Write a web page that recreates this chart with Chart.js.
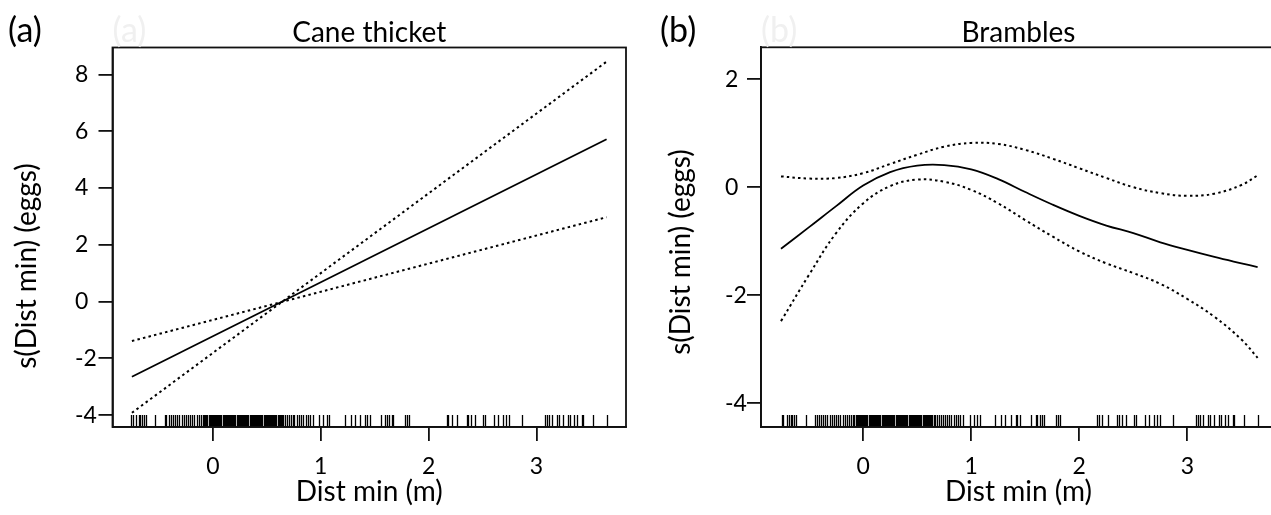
<!DOCTYPE html>
<html>
<head>
<meta charset="utf-8">
<script src="https://cdn.jsdelivr.net/npm/chart.js@4.4.0/dist/chart.umd.min.js"></script>
<style>
  html, body { margin: 0; padding: 0; background: #fff; overflow: hidden; }
  body { width: 1271px; height: 515px; position: relative; }
  .panel { position: absolute; top: 0; height: 515px; }
  #wrapA { left: 0; width: 640px; }
  #wrapB { left: 640px; width: 660px; }
</style>
</head>
<body>
<div class="panel" id="wrapA"><canvas id="chartA"></canvas></div>
<div class="panel" id="wrapB"><canvas id="chartB"></canvas></div>
<script>
// (a) Cane thicket: linear smooth, ends of the fitted line and its band
var caneX = [-0.75, 3.65];
var caneFit = [-2.65, 5.72];
var caneUpper = [-3.92, 8.45];
var caneLower = [-1.39, 2.97];

// (b) Brambles: smooth
var bramX = [-0.76, -0.5, -0.25, 0, 0.25, 0.5, 0.75, 1.0, 1.25, 1.5, 1.75, 2.0, 2.25, 2.5, 2.75, 3.0, 3.25, 3.5, 3.65];
var bramFit = [-1.14, -0.74, -0.35, 0.03, 0.28, 0.40, 0.41, 0.33, 0.15, -0.09, -0.32, -0.53, -0.71, -0.85, -1.02, -1.16, -1.29, -1.41, -1.48];
var bramUpper = [0.20, 0.16, 0.17, 0.26, 0.43, 0.60, 0.75, 0.82, 0.80, 0.69, 0.53, 0.35, 0.17, 0.0, -0.11, -0.16, -0.12, 0.04, 0.22];
var bramLower = [-2.48, -1.62, -0.85, -0.30, 0.02, 0.14, 0.10, -0.05, -0.30, -0.61, -0.91, -1.19, -1.41, -1.59, -1.79, -2.07, -2.40, -2.82, -3.16];

// rug of observed Dist min values (same in both panels)
var rugX = [
  -0.754, -0.739, -0.708, -0.686, -0.671, -0.656, -0.637, -0.624, -0.532,
  -0.445, -0.43, -0.41, -0.39, -0.37, -0.35, -0.33, -0.31, -0.29, -0.27, -0.25, -0.23, -0.21, -0.19, -0.17, -0.15, -0.13, -0.11,
  -0.09, -0.08, -0.07, -0.06, -0.05, -0.04, -0.03, -0.02, -0.01, 0.0, 0.01, 0.02, 0.03, 0.04, 0.05, 0.06, 0.07, 0.08, 0.09,
  0.1, 0.11, 0.12, 0.13, 0.14, 0.15, 0.16, 0.17, 0.18, 0.19, 0.2, 0.21, 0.22, 0.23, 0.24, 0.25, 0.26, 0.27, 0.28, 0.29,
  0.3, 0.31, 0.32, 0.33, 0.34, 0.35, 0.36, 0.37, 0.38, 0.39, 0.4, 0.41, 0.42, 0.43, 0.44, 0.45, 0.46, 0.47, 0.48, 0.49,
  0.5, 0.51, 0.52, 0.53, 0.54, 0.55, 0.56, 0.57, 0.58, 0.59, 0.6, 0.61, 0.62, 0.63, 0.64,
  0.652, 0.668, 0.684, 0.705, 0.721, 0.739, 0.754, 0.776, 0.798, 0.816, 0.838, 0.86, 0.878, 0.9, 0.925,
  0.986, 1.023, 1.055, 1.079, 1.224, 1.277, 1.317, 1.364, 1.41, 1.426, 1.456,
  1.556, 1.596, 1.611, 1.635, 1.658, 1.673, 1.781, 1.802, 1.821,
  2.168, 2.183, 2.214, 2.261, 2.353, 2.368, 2.391, 2.43, 2.502, 2.523, 2.609, 2.647, 2.687, 2.718, 2.743, 2.866,
  3.08, 3.096, 3.117, 3.142, 3.188, 3.212, 3.25, 3.296, 3.312, 3.352, 3.374, 3.426, 3.435, 3.522, 3.65
];

var xTicks = [0, 1, 2, 3];
var xTickLabels = ['0', '1', '2', '3'];
var caneYTicks = [-4, -2, 0, 2, 4, 6, 8];
var caneYLabels = ['-4', '-2', '0', '2', '4', '6', '8'];
var bramYTicks = [-4, -2, 0, 2];
var bramYLabels = ['-4', '-2', '0', '2'];

var FONT = 'Lato, "Open Sans", sans-serif';
var INK = '#111';

function pts(xs, ys) {
  return xs.map(function (x, i) { return { x: x, y: ys[i] }; });
}

// box, rug and the text around each panel
var panelDeco = {
  id: 'panelDeco',
  afterDatasetsDraw: function (chart, args, o) {
    var ctx = chart.ctx, a = chart.chartArea, xs = chart.scales.x;
    ctx.save();
    ctx.strokeStyle = '#000';
    ctx.lineWidth = 1.3;
    ctx.beginPath();
    rugX.forEach(function (v) {
      // snap to whole pixels so the dense part reads solid black
      var px = Math.round(xs.getPixelForValue(v)) + 0.5;
      ctx.moveTo(px, a.bottom);
      ctx.lineTo(px, a.bottom - 12);
    });
    ctx.stroke();
    ctx.strokeStyle = INK;
    ctx.lineWidth = 1.8;
    ctx.strokeRect(a.left, a.top, a.right - a.left, a.bottom - a.top);
    ctx.restore();
  },
  afterDraw: function (chart, args, o) {
    var ctx = chart.ctx, a = chart.chartArea;
    var cx = (a.left + a.right) / 2;
    ctx.save();
    ctx.textBaseline = 'middle';
    ctx.textAlign = 'left';
    ctx.font = '34px ' + FONT;
    ctx.fillStyle = '#f0f0f0';
    ctx.fillText(o.tag, a.left, 31);
    ctx.fillStyle = '#000';
    ctx.fillText(o.tag, o.tagX, 31);

    ctx.textAlign = 'center';
    ctx.font = '28px ' + FONT;
    ctx.textBaseline = 'alphabetic';
    ctx.fillText(o.title, cx, 42);

    ctx.textBaseline = 'middle';
    ctx.fillText('Dist min (m)', cx, 492);

    ctx.translate(o.yTitleX, o.yTitleY);
    ctx.rotate(-Math.PI / 2);
    ctx.fillText('s(Dist min) (eggs)', 0, 0);
    ctx.restore();
  }
};

function makePanel(id, cfg) {
  var axisCommon = {
    grid: { drawOnChartArea: false, drawTicks: true, tickLength: 14, color: INK, lineWidth: 1.8 },
    border: { display: true, color: INK, width: 1.8 }
  };
  var solid = { borderColor: '#000', borderWidth: 1.8, pointRadius: 0, fill: false };
  var dotted = { borderColor: '#000', borderWidth: 2, borderDash: [2.5, 3.2], pointRadius: 0, fill: false };

  var datasets = [
    Object.assign({ label: 'fit', data: pts(cfg.xs, cfg.fit) }, solid),
    Object.assign({ label: 'upper', data: pts(cfg.xs, cfg.upper) }, dotted),
    Object.assign({ label: 'lower', data: pts(cfg.xs, cfg.lower) }, dotted)
  ];
  datasets.forEach(function (d) { d.tension = cfg.tension; });

  return new Chart(document.getElementById(id).getContext('2d'), {
    type: 'line',
    data: { datasets: datasets },
    plugins: [panelDeco],
    options: {
      responsive: true,
      maintainAspectRatio: false,
      animation: false,
      layout: { padding: cfg.padding },
      plugins: {
        legend: { display: false },
        tooltip: { enabled: false },
        panelDeco: cfg.deco
      },
      scales: {
        x: Object.assign({
          type: 'linear',
          min: cfg.xMin,
          max: cfg.xMax,
          afterBuildTicks: function (s) { s.ticks = xTicks.map(function (v) { return { value: v }; }); },
          afterFit: function (s) { s.height = 88; },
          ticks: {
            color: '#000', padding: 14, maxRotation: 0, autoSkip: false,
            font: { family: FONT, size: 23, lineHeight: 1 },
            callback: function (v, i) { return xTickLabels[i]; }
          }
        }, axisCommon),
        y: Object.assign({
          type: 'linear',
          min: cfg.yMin,
          max: cfg.yMax,
          afterBuildTicks: function (s) { s.ticks = cfg.yTicks.map(function (v) { return { value: v }; }); },
          afterFit: function (s) { s.width = cfg.yWidth; },
          ticks: {
            color: '#000', crossAlign: 'far', autoSkip: false,
            font: { family: FONT, size: 23, lineHeight: 1 },
            callback: function (v, i) { return cfg.yLabels[i]; }
          }
        }, axisCommon)
      }
    }
  });
}

makePanel('chartA', {
  xs: caneX, fit: caneFit, upper: caneUpper, lower: caneLower, tension: 0,
  xMin: -0.93, xMax: 3.83, yMin: -4.42, yMax: 8.95,
  yTicks: caneYTicks, yLabels: caneYLabels, yWidth: 37.5,
  padding: { left: 75, right: 14, top: 47.5, bottom: 0 },
  deco: { tag: '(a)', tagX: 8, title: 'Cane thicket', yTitleX: 27, yTitleY: 266 }
});

makePanel('chartB', {
  xs: bramX, fit: bramFit, upper: bramUpper, lower: bramLower, tension: 0.4,
  xMin: -0.945, xMax: 3.82, yMin: -4.44, yMax: 2.59,
  yTicks: bramYTicks, yLabels: bramYLabels, yWidth: 36,
  padding: { left: 85, right: 24, top: 47.3, bottom: 0 },
  deco: { tag: '(b)', tagX: 20, title: 'Brambles', yTitleX: 41, yTitleY: 252 }
});
</script>
</body>
</html>
